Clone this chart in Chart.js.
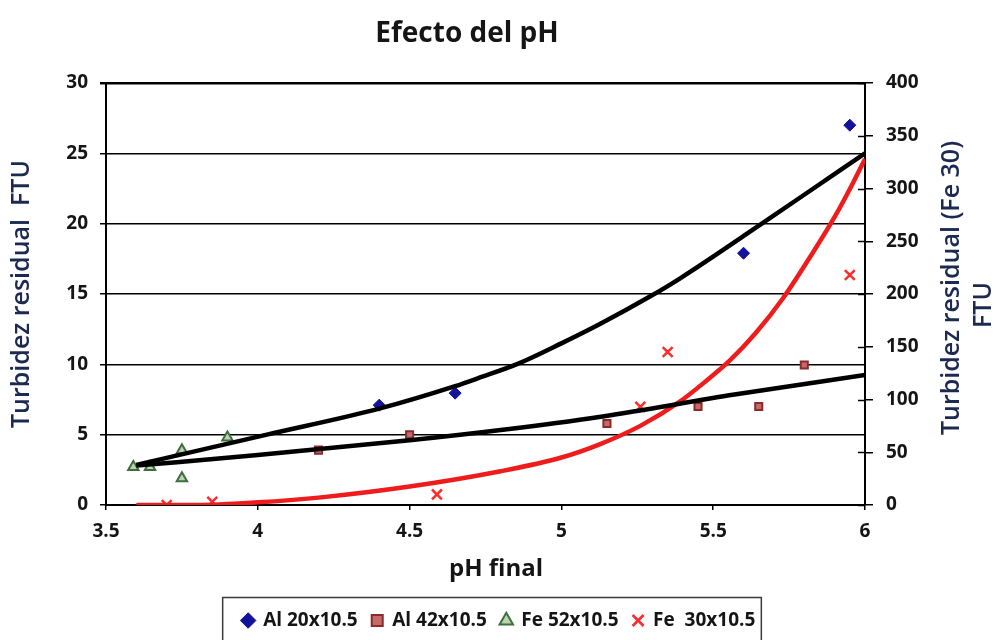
<!DOCTYPE html>
<html>
<head>
<meta charset="utf-8">
<script src="https://cdn.jsdelivr.net/npm/chart.js@4.4.1/dist/chart.umd.min.js"></script>
<style>
html,body{margin:0;padding:0;background:#ffffff;}
#wrap{width:998px;height:640px;position:relative;}
</style>
</head>
<body>
<div id="wrap"><canvas id="c" width="998" height="640"></canvas></div>
<script>
// ---- data ----
const chartTitle = 'Efecto del pH';
const xTitle = 'pH final';
const yTitle = 'Turbidez residual  FTU';
const y1TitleLines = ['Turbidez residual (Fe 30)', 'FTU'];
const seriesNames = ['Al 20x10.5', 'Al 42x10.5', 'Fe 52x10.5', 'Fe  30x10.5'];

const al20X = [4.4, 4.65, 5.6, 5.95];
const al20Y = [7.1, 7.95, 17.9, 27.0];
const al42X = [4.2, 4.5, 5.15, 5.45, 5.65, 5.8];
const al42Y = [3.9, 5.0, 5.8, 7.0, 7.0, 9.95];
const fe52X = [3.59, 3.645, 3.75, 3.75, 3.9];
const fe52Y = [2.7, 2.7, 1.9, 3.9, 4.8];
const fe30X = [3.7, 3.85, 4.59, 5.26, 5.35, 5.95];
const fe30Y = [0, 3, 10, 93, 145, 218];

// trend lines at several x positions
const trendAl20X = [3.6, 4.03, 4.4, 4.65, 4.73, 4.86, 5.0, 5.13, 5.29, 5.39, 5.66, 5.83, 6.0];
const trendAl20Y = [2.85, 5.0, 6.85, 8.45, 9.05, 10.07, 11.49, 12.9, 14.8, 16.1, 20.0, 22.5, 25.0];
const trendAl42X = [3.6, 4.0, 4.5, 4.8, 5.13, 5.57, 6.0];
const trendAl42Y = [2.8, 3.55, 4.6, 5.33, 6.28, 7.85, 9.24];
const trendFe30X = [3.6, 3.8, 4.0, 4.2, 4.5, 4.8, 5.0, 5.13, 5.26, 5.39, 5.47, 5.555, 5.64, 5.73, 5.83, 5.9, 5.96, 6.0];
const trendFe30Y = [0, 0, 2.5, 7, 17.5, 32, 45, 58, 75, 98, 116, 137, 163, 196, 240, 273, 305, 328];

// axis ranges / ticks
const xMin = 3.5, xMax = 6, xStep = 0.5;
const xTickLabels = ['3.5', '4', '4.5', '5', '5.5', '6'];
const yMin = 0, yMax = 30, yStep = 5;
const y1Min = 0, y1Max = 400, y1Step = 50;

// ---- helpers ----
const pts = (xs, ys) => xs.map((x, i) => ({x: x, y: ys[i]}));
const FONT = "'Open Sans', 'DejaVu Sans', sans-serif";
const NAVY = '#1c2a52';
const TXT = '#151515';

const plotLeft = 106, plotRight = 865, plotTop = 83, plotBottom = 505;

const extras = {
  id: 'extras',
  afterDraw(chart) {
    const ctx = chart.ctx;
    ctx.save();
    // chart title
    ctx.fillStyle = TXT;
    ctx.font = "bold 28px " + FONT;
    ctx.textAlign = 'center';
    ctx.textBaseline = 'alphabetic';
    ctx.fillText(chartTitle, 467, 42);
    // x axis title
    ctx.font = "bold 24px " + FONT;
    ctx.textBaseline = 'middle';
    ctx.fillText(xTitle, 496, 569);
    // right axis title (reads bottom to top)
    ctx.fillStyle = NAVY;
    ctx.font = "600 25px " + FONT;
    ctx.save();
    ctx.translate(952, 288);
    ctx.rotate(-Math.PI / 2);
    ctx.fillText(y1TitleLines[0], 0, 0);
    ctx.restore();
    ctx.save();
    ctx.translate(984, 305);
    ctx.rotate(-Math.PI / 2);
    ctx.fillText(y1TitleLines[1], 0, 0);
    ctx.restore();
    // inner half of the crossing ticks on the right axis
    const y1 = chart.scales.y1;
    ctx.strokeStyle = '#000';
    ctx.lineWidth = 1.5;
    y1.ticks.forEach(t => {
      const py = Math.round(y1.getPixelForValue(t.value)) + 0.5;
      ctx.beginPath();
      ctx.moveTo(chart.chartArea.right - 7, py);
      ctx.lineTo(chart.chartArea.right, py);
      ctx.stroke();
    });
    // legend border
    const lg = chart.legend;
    if (lg && lg.legendHitBoxes && lg.legendHitBoxes.length) {
      let minX = Infinity, maxX = -Infinity;
      lg.legendHitBoxes.forEach(h => { minX = Math.min(minX, h.left); maxX = Math.max(maxX, h.left + h.width); });
      ctx.strokeStyle = '#3a3a3a';
      ctx.lineWidth = 1.5;
      ctx.strokeRect(minX - 20, lg.top + 0.5, (maxX + 6) - (minX - 20), 80);
    }
    ctx.restore();
  }
};

const pointBase = {showLine: false, order: 1};
const lineBase = {showLine: true, pointRadius: 0, pointHoverRadius: 0, borderWidth: 4.5, cubicInterpolationMode: 'monotone', order: 0, fill: false};

const chart = new Chart(document.getElementById('c'), {
  type: 'scatter',
  data: {
    datasets: [
      Object.assign({}, pointBase, {label: seriesNames[0], data: pts(al20X, al20Y), yAxisID: 'y',
        pointStyle: 'rectRot', pointRadius: 6, backgroundColor: '#12129a', borderColor: '#12129a', borderWidth: 1}),
      Object.assign({}, pointBase, {label: seriesNames[1], data: pts(al42X, al42Y), yAxisID: 'y',
        pointStyle: 'rect', pointRadius: 5, backgroundColor: '#c46a6a', borderColor: '#8a2a2a', borderWidth: 2}),
      Object.assign({}, pointBase, {label: seriesNames[2], data: pts(fe52X, fe52Y), yAxisID: 'y',
        pointStyle: 'triangle', pointRadius: 6, backgroundColor: '#b9d3b3', borderColor: '#3f6e3f', borderWidth: 2}),
      Object.assign({}, pointBase, {label: seriesNames[3], data: pts(fe30X, fe30Y), yAxisID: 'y1',
        pointStyle: 'crossRot', pointRadius: 7, backgroundColor: '#ff2a2a', borderColor: '#ff2a2a', borderWidth: 2.5}),
      Object.assign({}, lineBase, {label: 'trend1', data: pts(trendAl20X, trendAl20Y), yAxisID: 'y', borderColor: '#000000'}),
      Object.assign({}, lineBase, {label: 'trend2', data: pts(trendAl42X, trendAl42Y), yAxisID: 'y', borderColor: '#000000'}),
      Object.assign({}, lineBase, {label: 'trend4', data: pts(trendFe30X, trendFe30Y), yAxisID: 'y1', borderColor: '#ee1c1c'})
    ]
  },
  options: {
    responsive: false,
    animation: false,
    events: [],
    layout: {padding: {top: plotTop, left: 0, right: 0, bottom: 0}},
    plugins: {
      title: {display: false},
      tooltip: {enabled: false},
      legend: {
        display: true,
        position: 'bottom',
        labels: {
          filter: (item) => item.datasetIndex < 4,
          usePointStyle: true,
          boxWidth: 11,
          boxHeight: 11,
          padding: 14,
          color: TXT,
          font: {family: FONT, size: 19, weight: 'bold'}
        }
      }
    },
    scales: {
      x: {
        type: 'linear',
        min: xMin, max: xMax,
        ticks: {stepSize: xStep, color: TXT, font: {family: FONT, size: 19, weight: 'bold'}, padding: 10,
          callback: (v, i) => xTickLabels[i]},
        grid: {drawOnChartArea: false, color: '#000', lineWidth: 1.5, tickLength: 5},
        border: {display: true, color: '#000', width: 2},
        title: {display: false},
        afterFit: (s) => { s.height = 640 - plotBottom - (s.chart.legend ? s.chart.legend.height : 47); }
      },
      y: {
        position: 'left',
        min: yMin, max: yMax,
        ticks: {stepSize: yStep, color: TXT, font: {family: FONT, size: 19, weight: 'bold'}, padding: 12},
        grid: {color: '#000', lineWidth: (c) => (c.tick && c.tick.value === yMax ? 2.5 : 1.5), tickLength: 6},
        border: {display: true, color: '#000', width: 2},
        title: {display: true, text: yTitle, color: NAVY, font: {family: FONT, size: 25, weight: '600'}, padding: {top: 7, bottom: 0}},
        afterFit: (s) => { s.width = plotLeft; }
      },
      y1: {
        position: 'right',
        min: y1Min, max: y1Max,
        ticks: {stepSize: y1Step, color: TXT, font: {family: FONT, size: 19, weight: 'bold'}, padding: 13},
        grid: {drawOnChartArea: false, color: '#000', lineWidth: 1.5, tickLength: 8},
        border: {display: true, color: '#000', width: 2},
        title: {display: false},
        afterFit: (s) => { s.width = 998 - plotRight; }
      }
    }
  },
  plugins: [extras]
});
</script>
</body>
</html>
